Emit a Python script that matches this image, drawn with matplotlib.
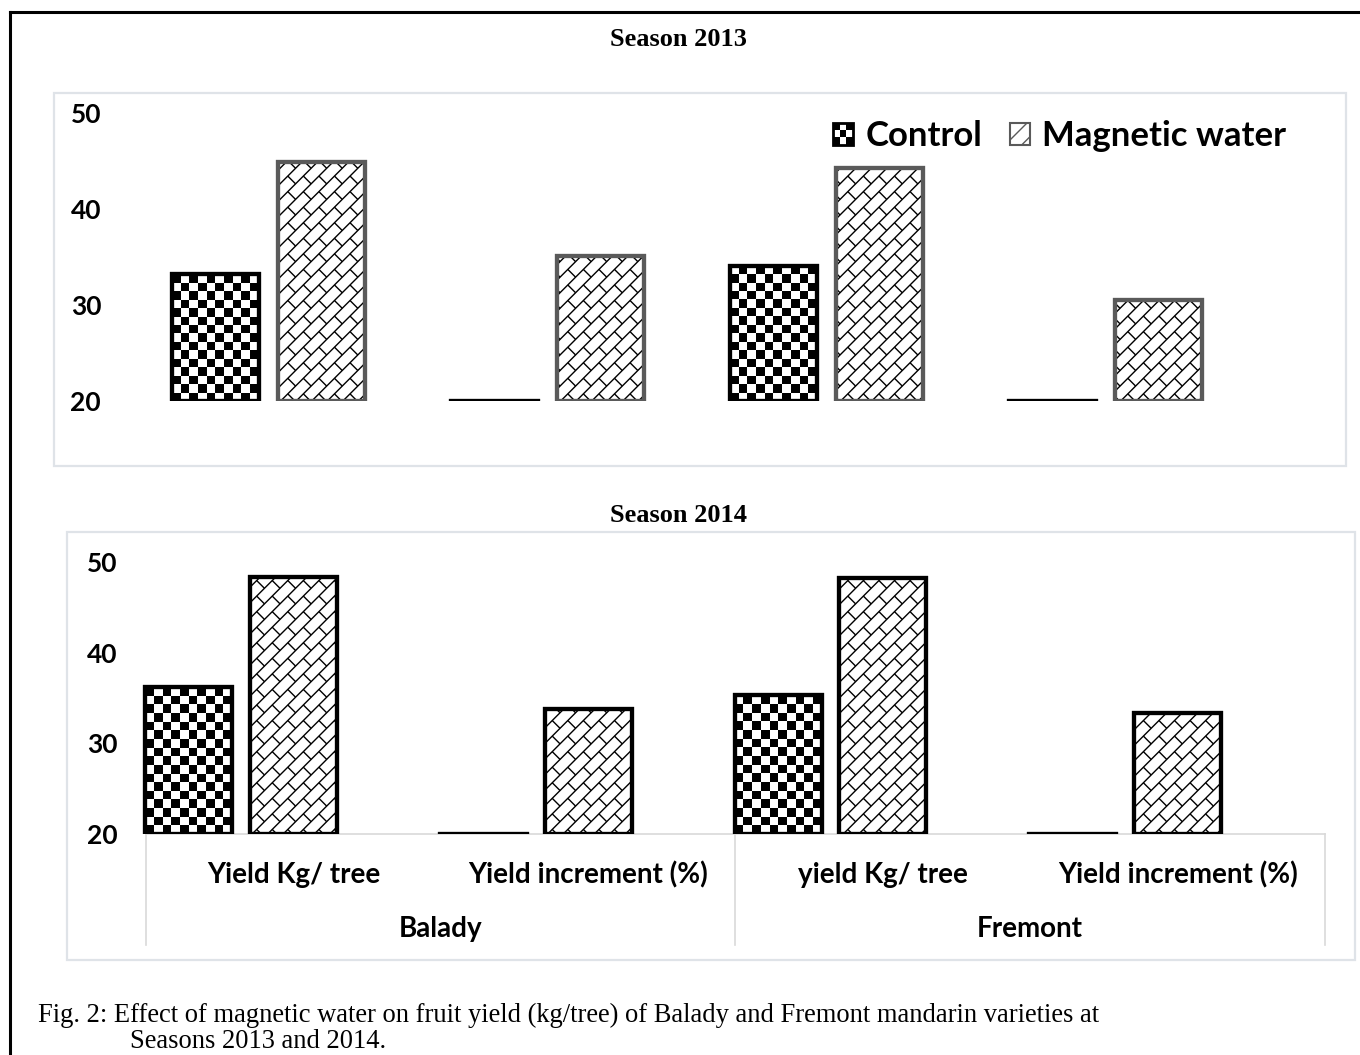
import numpy as np
import matplotlib
matplotlib.use("Agg")
import matplotlib.pyplot as plt
from matplotlib.patches import Patch, Rectangle
from matplotlib.lines import Line2D
from matplotlib.collections import LineCollection, PolyCollection
from matplotlib.legend_handler import HandlerBase
import matplotlib.transforms as mtrans

# data
categories = ["Yield Kg/ tree", "Yield increment (%)", "yield Kg/ tree", "Yield increment (%)"]
varieties = ["Balady", "Fremont"]
control_2013 = [33.2, 0, 34.1, 0]
magnetic_2013 = [44.9, 35.1, 44.3, 30.5]
control_2014 = [36.2, 0, 35.3, 0]
magnetic_2014 = [48.3, 33.8, 48.2, 33.3]
yticks = [20, 30, 40, 50]

W, H = 1360, 1055
SANS = "Lato"
SERIF = "Liberation Serif"

fig = plt.figure(figsize=(W / 100, H / 100), dpi=100)


def px_rect(x0, y0, x1, y1):
    # pixel box -> figure fraction [left, bottom, width, height]
    return [x0 / W, 1 - y1 / H, (x1 - x0) / W, (y1 - y0) / H]


# outer black frame (only top and left visible)
fig.add_artist(Line2D([10 / W, 1], [1 - 12 / H, 1 - 12 / H], color="black", lw=2.2, transform=fig.transFigure))
fig.add_artist(Line2D([10 / W, 10 / W], [0, 1 - 12 / H], color="black", lw=2.2, transform=fig.transFigure))

# light panel frames
for box in [(54, 93, 1346, 466), (67, 532, 1355, 960)]:
    r = px_rect(*box)
    fig.add_artist(Rectangle((r[0], r[1]), r[2], r[3], transform=fig.transFigure,
                             fill=False, edgecolor="#dfe3e8", lw=1.6))

fig.text(678 / W, 1 - 40 / H, "Season 2013", ha="center", va="center",
         family=SERIF, weight="bold", fontsize=19)
fig.text(678 / W, 1 - 515 / H, "Season 2014", ha="center", va="center",
         family=SERIF, weight="bold", fontsize=19)


def bar_pixels(ax, bar):
    x0, y0 = bar.get_x(), max(bar.get_y(), 20)
    x1, y1 = x0 + bar.get_width(), bar.get_y() + bar.get_height()
    p0 = ax.transData.transform((x0, y0))
    p1 = ax.transData.transform((x1, y1))
    return p0, p1


def checker_fill(ax, bar, cell=8.7):
    # black/white checkerboard inside a bar
    if bar.get_y() + bar.get_height() <= 20:
        return
    p0, p1 = bar_pixels(ax, bar)
    inv = ax.transData.inverted()
    nx = max(1, int(round((p1[0] - p0[0]) / cell)))
    ny = max(1, int(round((p1[1] - p0[1]) / cell)))
    cw = (p1[0] - p0[0]) / nx
    ch = (p1[1] - p0[1]) / ny
    polys = []
    for i in range(ny):
        for j in range(nx):
            if (i + j) % 2 == 0:
                sq = [(p0[0] + j * cw, p0[1] + i * ch), (p0[0] + (j + 1) * cw, p0[1] + i * ch),
                      (p0[0] + (j + 1) * cw, p0[1] + (i + 1) * ch), (p0[0] + j * cw, p0[1] + (i + 1) * ch)]
                polys.append(inv.transform(sq))
    pc = PolyCollection(polys, facecolor="black", edgecolor="none", zorder=2)
    ax.add_collection(pc)


def brick_fill(ax, bar, gap=11.0, step=22.0, lw=1.0):
    # diagonal brick hatch of the magnetic water bars
    if bar.get_y() + bar.get_height() <= 20:
        return
    p0, p1 = bar_pixels(ax, bar)
    inv = ax.transData.inverted()
    r2 = np.sqrt(2)
    # rotated frame: u along "/" lines, v across them
    corners = np.array([[p0[0], p0[1]], [p1[0], p0[1]], [p1[0], p1[1]], [p0[0], p1[1]]])
    us = (corners[:, 0] + corners[:, 1]) / r2
    vs = (corners[:, 1] - corners[:, 0]) / r2
    umin, umax = us.min() - step, us.max() + step
    k0, k1 = int(np.floor(vs.min() / gap)) - 1, int(np.ceil(vs.max() / gap)) + 1

    def to_xy(u, v):
        return ((u - v) / r2, (u + v) / r2)

    segs = []
    for k in range(k0, k1 + 1):
        v = k * gap
        segs.append(inv.transform([to_xy(umin, v), to_xy(umax, v)]))
        m0 = int(np.floor(umin / step))
        for m in range(m0, m0 + int((umax - umin) / step) + 2):
            u = m * step + (k % 2) * step / 2
            segs.append(inv.transform([to_xy(u, v), to_xy(u, v + gap)]))
    lc = LineCollection(segs, colors="black", linewidths=lw, zorder=2)
    ax.add_collection(lc)
    clip = Rectangle((bar.get_x(), max(bar.get_y(), 20)), bar.get_width(),
                     bar.get_y() + bar.get_height() - max(bar.get_y(), 20),
                     transform=ax.transData)
    lc.set_clip_path(clip)


def draw_panel(rect, xlim, ctrl, mag, off, width, mag_edge, pad):
    ax = fig.add_axes(rect)
    x = np.arange(len(ctrl))
    ax.set_xlim(*xlim)
    ax.set_ylim(20, 50)
    base = 20
    cbars = ax.bar(x + off, np.array(ctrl) - base, width, bottom=base,
                   facecolor="white", edgecolor="black", lw=3, zorder=1)
    mbars = ax.bar(x, np.array(mag) - base, width, bottom=base,
                   facecolor="white", edgecolor=mag_edge, lw=3, zorder=1)
    for b in cbars:
        checker_fill(ax, b)
    for b in mbars:
        brick_fill(ax, b)
    # outlines on top of the fills
    ax.bar(x + off, np.array(ctrl) - base, width, bottom=base,
           facecolor="none", edgecolor="black", lw=3, zorder=3)
    ax.bar(x, np.array(mag) - base, width, bottom=base,
           facecolor="none", edgecolor=mag_edge, lw=3, zorder=3)
    for s in ax.spines.values():
        s.set_visible(False)
    ax.set_yticks(yticks)
    ax.set_yticklabels([str(t) for t in yticks], family=SANS, weight="bold", fontsize=19)
    ax.tick_params(axis="y", length=0, pad=pad)
    ax.tick_params(axis="x", length=0)
    return ax


ax1 = draw_panel(px_rect(140, 113, 1298, 401), (-0.65, 3.5), control_2013, magnetic_2013,
                 -0.38, 0.312, "#5a5a5a", 28)
ax1.set_xticks([])

ax2 = draw_panel(px_rect(120, 562, 1325, 834), (-0.588, 3.5), control_2014, magnetic_2014,
                 -0.355, 0.295, "black", 2)
ax2.set_xticks(np.arange(len(categories)))
ax2.set_xticklabels(categories, family=SANS, weight="bold", fontsize=20)
ax2.tick_params(axis="x", pad=20)

# hierarchical category axis
tr = mtrans.blended_transform_factory(ax2.transData, ax2.transAxes)
ax2.plot([-0.5, 3.5], [0, 0], color="#d9d9d9", lw=1.2, transform=tr, clip_on=False, zorder=0.5)
for xs in [-0.5, 1.5, 3.5]:
    ax2.plot([xs, xs], [0, -0.408], color="#d9d9d9", lw=1.2, transform=tr, clip_on=False)
for i, name in enumerate(varieties):
    ax2.text(2 * i + 0.5, -0.35, name, transform=tr, ha="center", va="center",
             family=SANS, weight="bold", fontsize=20)


class CheckerHandler(HandlerBase):
    def create_artists(self, legend, orig_handle, xdescent, ydescent, width, height, fontsize, trans):
        x0, y0 = -xdescent, -ydescent
        arts = [Rectangle((x0, y0), width, height, facecolor="white", edgecolor="black",
                          lw=2, transform=trans)]
        n = 3
        for i in range(n):
            for j in range(n):
                if (i + j) % 2 == 0:
                    arts.append(Rectangle((x0 + j * width / n, y0 + i * height / n), width / n,
                                          height / n, facecolor="black", lw=0, transform=trans))
        return arts


# legend
h_ctrl = Patch(facecolor="white", edgecolor="black")
h_mag = Patch(facecolor="white", edgecolor="#5a5a5a", hatch="//", lw=1.5)
ax1.legend([h_ctrl, h_mag], ["Control", "Magnetic water"], loc="center left",
           bbox_to_anchor=(833 / W, 1 - 136 / H), bbox_transform=fig.transFigure,
           ncol=2, frameon=False, borderpad=0, borderaxespad=0,
           handlelength=0.58, handleheight=0.58, handletextpad=0.35, columnspacing=0.8,
           handler_map={h_ctrl: CheckerHandler()},
           prop={"family": SANS, "weight": "bold", "size": 25})

fig.text(38 / W, 1 - 1015 / H,
         "Fig. 2: Effect of magnetic water on fruit yield (kg/tree) of Balady and Fremont mandarin varieties at",
         ha="left", va="center", family=SERIF, fontsize=19.1)
fig.text(130 / W, 1 - 1042 / H, "Seasons 2013 and 2014.", ha="left", va="center",
         family=SERIF, fontsize=19.1)

fig.savefig("out.png", dpi=100)
